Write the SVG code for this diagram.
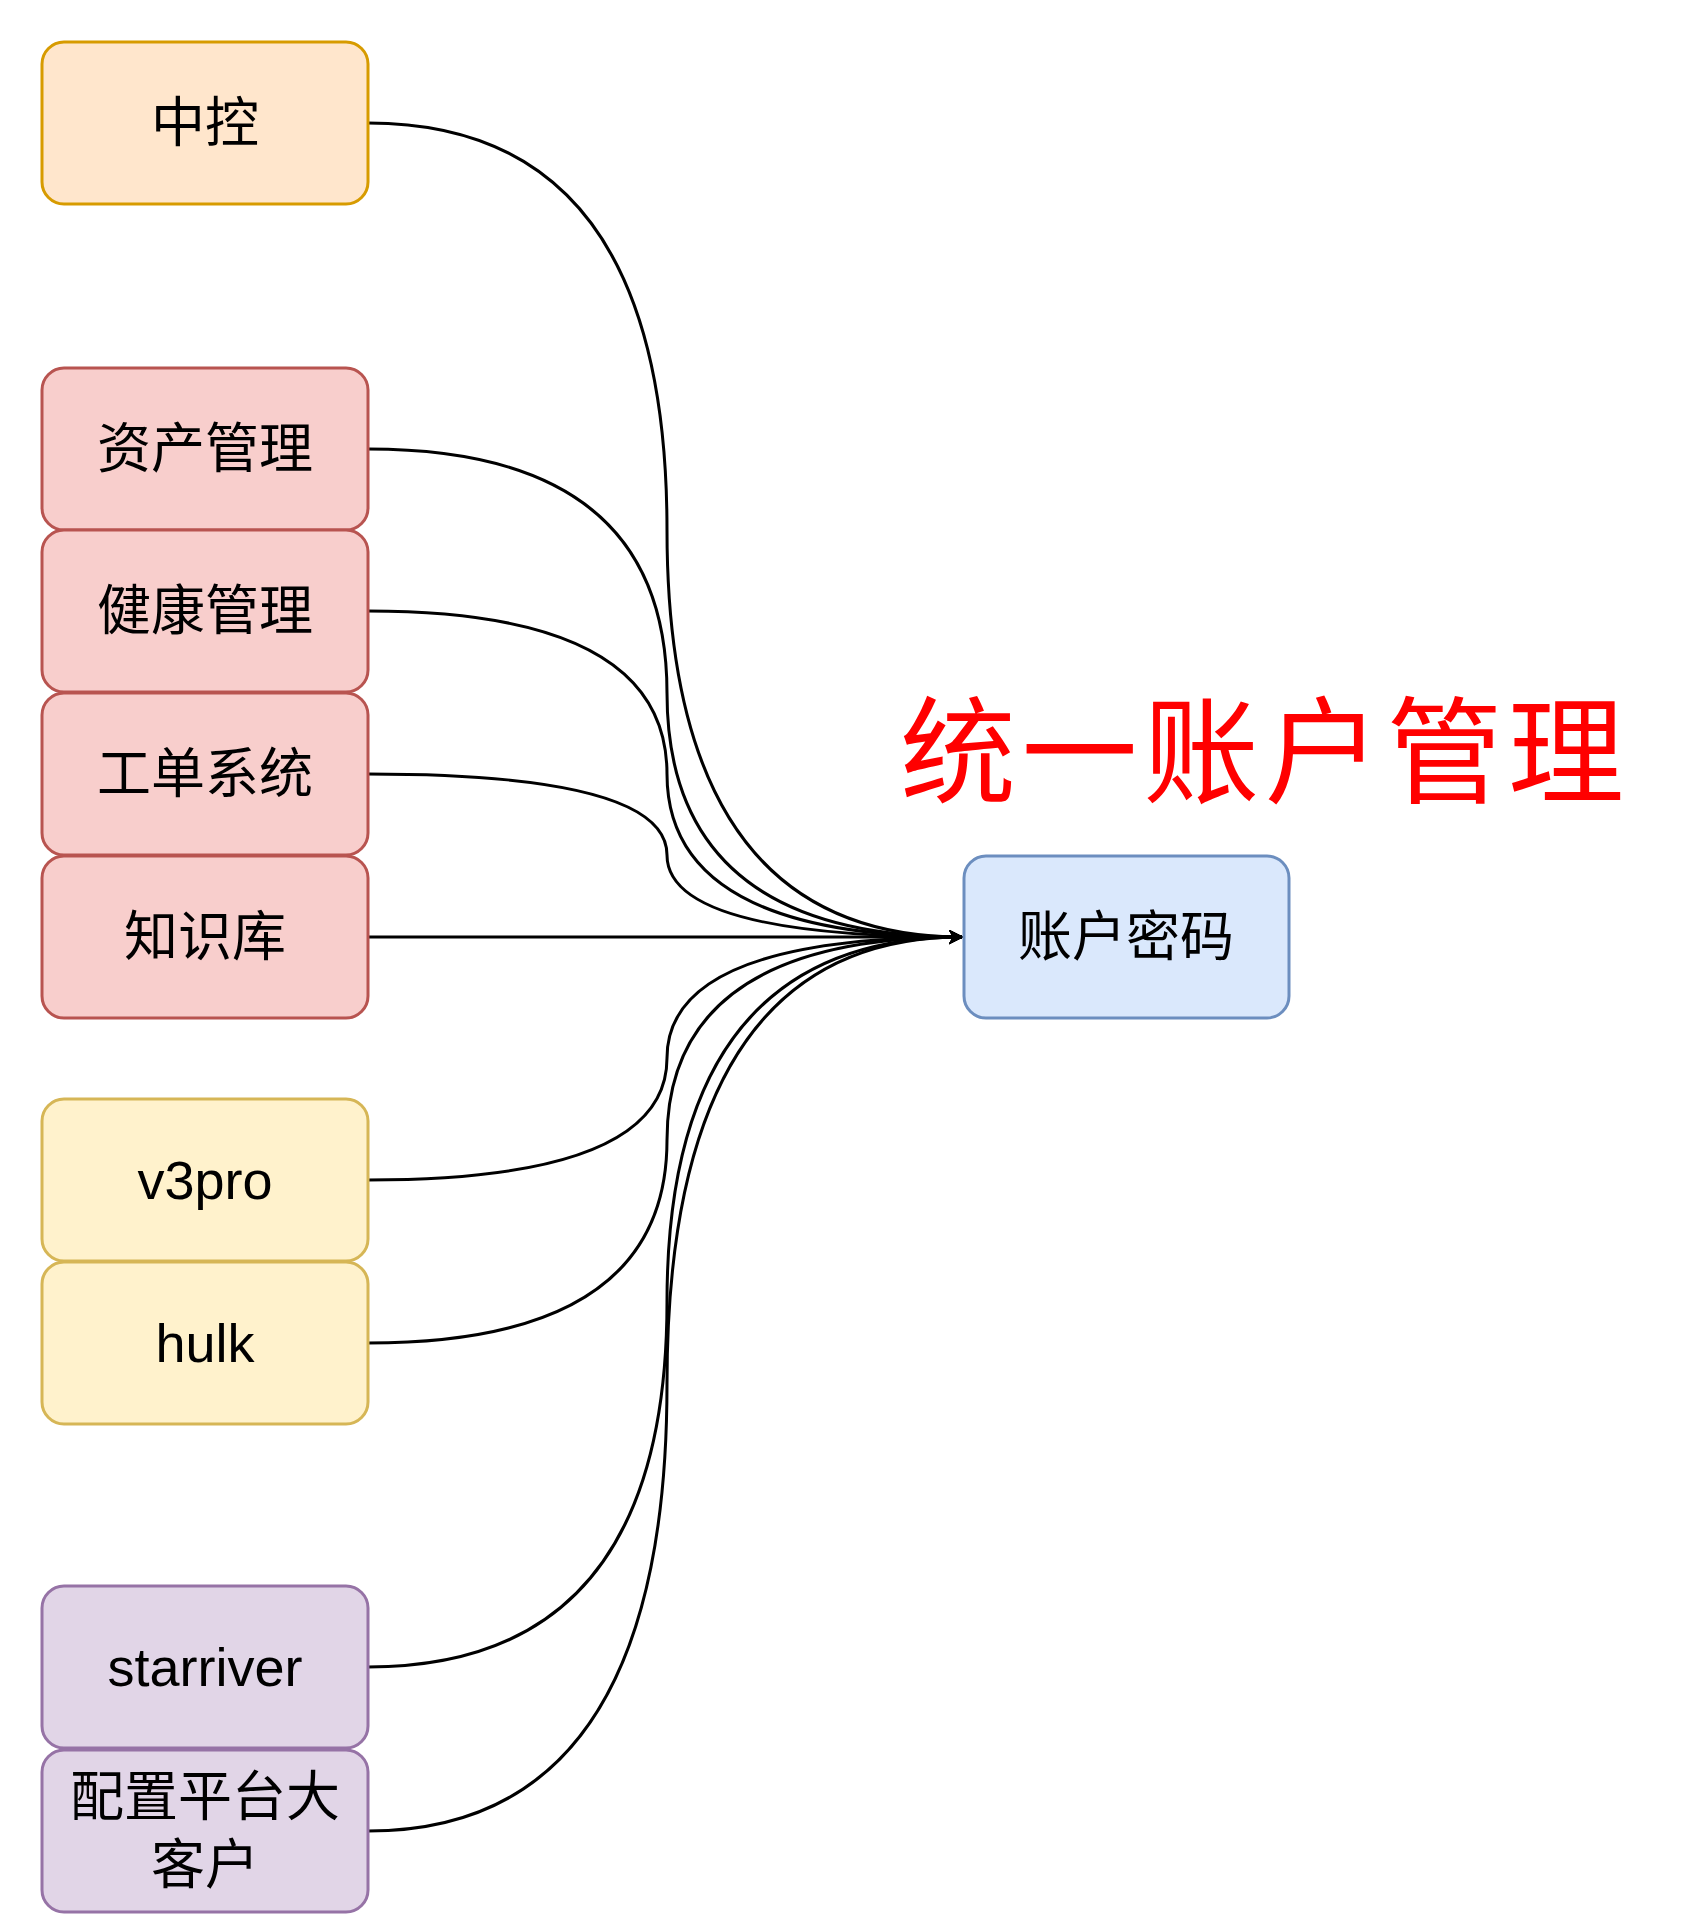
<svg xmlns="http://www.w3.org/2000/svg" width="1684" height="1924" viewBox="0 0 1684 1924">
<style>
.n{stroke-width:3}
.t{font-family:"Liberation Sans","Noto Sans CJK SC",sans-serif;font-size:54px;text-anchor:middle;dominant-baseline:central;fill:#000}
.c{fill:none;stroke:#000;stroke-width:3}
</style>
<defs><marker id="a" viewBox="0 0 10 10" refX="9" refY="5" markerWidth="5" markerHeight="5" orient="auto" markerUnits="strokeWidth"><path d="M0,0 L10,5 L0,10 L3,5 Z" fill="#000"/></marker></defs>
<rect width="1684" height="1924" fill="#fff"/>
<g id="connectors">
<path class="c" marker-end="url(#a)" d="M368,123 Q667,123 667,530 Q667,937 962,937"/>
<path class="c" marker-end="url(#a)" d="M368,449 Q667,449 667,693 Q667,937 962,937"/>
<path class="c" marker-end="url(#a)" d="M368,611 Q667,611 667,774 Q667,937 962,937"/>
<path class="c" marker-end="url(#a)" d="M368,774 Q667,774 667,855 Q667,937 962,937"/>
<path class="c" marker-end="url(#a)" d="M368,937 L962,937"/>
<path class="c" marker-end="url(#a)" d="M368,1180 Q667,1180 667,1058 Q667,937 962,937"/>
<path class="c" marker-end="url(#a)" d="M368,1343 Q667,1343 667,1140 Q667,937 962,937"/>
<path class="c" marker-end="url(#a)" d="M368,1667 Q667,1667 667,1302 Q667,937 962,937"/>
<path class="c" marker-end="url(#a)" d="M368,1831 Q667,1831 667,1384 Q667,937 962,937"/>
</g>
<g id="n1"><rect class="n" x="42" y="42" width="326" height="162" rx="22" fill="#ffe6cc" stroke="#d79b00"/><text class="t" x="205" y="123">中控</text></g>
<g id="n2"><rect class="n" x="42" y="368" width="326" height="162" rx="22" fill="#f8cecc" stroke="#b85450"/><text class="t" x="205" y="449">资产管理</text></g>
<g id="n3"><rect class="n" x="42" y="530" width="326" height="162" rx="22" fill="#f8cecc" stroke="#b85450"/><text class="t" x="205" y="611">健康管理</text></g>
<g id="n4"><rect class="n" x="42" y="693" width="326" height="162" rx="22" fill="#f8cecc" stroke="#b85450"/><text class="t" x="205" y="774">工单系统</text></g>
<g id="n5"><rect class="n" x="42" y="856" width="326" height="162" rx="22" fill="#f8cecc" stroke="#b85450"/><text class="t" x="205" y="937">知识库</text></g>
<g id="n6"><rect class="n" x="42" y="1099" width="326" height="162" rx="22" fill="#fff2cc" stroke="#d6b656"/><text class="t" x="205" y="1180">v3pro</text></g>
<g id="n7"><rect class="n" x="42" y="1262" width="326" height="162" rx="22" fill="#fff2cc" stroke="#d6b656"/><text class="t" x="205" y="1343">hulk</text></g>
<g id="n8"><rect class="n" x="42" y="1586" width="326" height="162" rx="22" fill="#e1d5e7" stroke="#9673a6"/><text class="t" x="205" y="1667">starriver</text></g>
<g id="n9"><rect class="n" x="42" y="1750" width="326" height="162" rx="22" fill="#e1d5e7" stroke="#9673a6"/><text class="t" x="205" y="1797">配置平台大</text><text class="t" x="205" y="1865">客户</text></g>
<g id="target"><rect class="n" x="964" y="856" width="325" height="162" rx="22" fill="#dae8fc" stroke="#6c8ebf"/><text class="t" x="1126" y="937">账户密码</text></g>
<g id="title"><text x="1262" y="754" style="font-family:'Liberation Sans','Noto Sans CJK SC',sans-serif;font-size:116px;text-anchor:middle;dominant-baseline:central;fill:#ff0000" textLength="724" lengthAdjust="spacing">统一账户管理</text></g>
</svg>
